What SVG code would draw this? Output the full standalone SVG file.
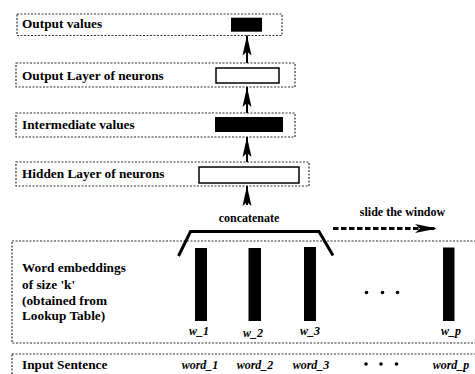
<svg xmlns="http://www.w3.org/2000/svg" width="475" height="374" viewBox="0 0 475 374">
<defs>
<style>
.box{fill:none;stroke:#333;stroke-width:1.2;stroke-dasharray:2 1.5}
.lbl{font-family:"Liberation Serif","Times New Roman",serif;font-weight:bold;font-size:13.3px;fill:#000}
.sm{font-family:"Liberation Serif","Times New Roman",serif;font-weight:bold;font-size:12px;fill:#000}
.it{font-family:"Liberation Serif","Times New Roman",serif;font-weight:bold;font-style:italic;font-size:12px;fill:#000}
.blk{fill:#000}
.wht{fill:#fff;stroke:#000;stroke-width:1.5}
.arr{fill:none;stroke:#000;stroke-width:2}
</style>
<marker id="ah" viewBox="0 0 20 10" refX="20" refY="5" markerWidth="20" markerHeight="10" markerUnits="userSpaceOnUse" orient="auto">
<path d="M20,5 L0,0.5 L4,5 L0,9.5 Z" fill="#000"/>
</marker>
<marker id="ah2" viewBox="0 0 22 9" refX="22" refY="4.5" markerWidth="22" markerHeight="9" markerUnits="userSpaceOnUse" orient="auto">
<path d="M22,4.5 L0,0 L5,4.5 L0,9 Z" fill="#000"/>
</marker>
</defs>
<rect width="475" height="374" fill="#fff"/>

<g id="output-values">
<rect class="box" x="17" y="14" width="265" height="21.5"/>
<text class="lbl" x="22" y="28">Output values</text>
<rect class="blk" x="231" y="17.7" width="31" height="14"/>
</g>

<g id="output-layer">
<rect class="box" x="16" y="63" width="279" height="24"/>
<text class="lbl" x="22" y="80">Output Layer of neurons</text>
<rect class="wht" x="216" y="68" width="63" height="15"/>
</g>

<g id="intermediate">
<rect class="box" x="16" y="113" width="279" height="24"/>
<text class="lbl" x="22" y="129">Intermediate values</text>
<rect class="blk" x="215" y="117" width="68" height="15"/>
</g>

<g id="hidden-layer">
<rect class="box" x="16" y="162" width="293" height="24"/>
<text class="lbl" x="22" y="178">Hidden Layer of neurons</text>
<rect class="wht" x="199" y="167" width="100" height="16"/>
</g>

<g id="embeddings">
<rect class="box" x="12" y="241" width="470" height="102"/>
<text class="lbl" x="22" y="272">Word embeddings</text>
<text class="lbl" x="22" y="289">of size 'k'</text>
<text class="lbl" x="22" y="305">(obtained from</text>
<text class="lbl" x="22" y="320">Lookup Table)</text>
<rect class="blk" x="195" y="248" width="12" height="73"/>
<rect class="blk" x="248.5" y="248" width="12.5" height="73"/>
<rect class="blk" x="304" y="247" width="12" height="74"/>
<rect class="blk" x="443" y="247.5" width="11.5" height="73.5"/>
<text class="it" x="199" y="335" text-anchor="middle">w_1</text>
<text class="it" x="253" y="337" text-anchor="middle">w_2</text>
<text class="it" x="310" y="335" text-anchor="middle">w_3</text>
<text class="it" x="451" y="335" text-anchor="middle">w_p</text>
<circle cx="366.5" cy="292.5" r="1.8"/>
<circle cx="382.5" cy="292.5" r="1.8"/>
<circle cx="397.5" cy="292.5" r="1.8"/>
</g>

<g id="input-sentence">
<rect class="box" x="12" y="354" width="470" height="30"/>
<text class="lbl" x="22" y="369">Input Sentence</text>
<text class="it" x="200" y="369" text-anchor="middle">word_1</text>
<text class="it" x="255" y="369" text-anchor="middle">word_2</text>
<text class="it" x="311" y="369" text-anchor="middle">word_3</text>
<text class="it" x="451" y="369" text-anchor="middle">word_p</text>
<circle cx="366" cy="364" r="1.8"/>
<circle cx="381" cy="364" r="1.8"/>
<circle cx="396.5" cy="364" r="1.8"/>
</g>

<g id="concatenate">
<polyline points="178.5,256 190.5,231.5 319,231.5 333,255.5" fill="none" stroke="#000" stroke-width="3"/>
<text class="sm" x="249" y="222" text-anchor="middle">concatenate</text>
</g>

<g id="slide-window">
<text class="sm" x="402.5" y="216" text-anchor="middle">slide the window</text>
</g>

<g id="connectors">
<line class="arr" x1="247" y1="63" x2="247" y2="35.5" marker-end="url(#ah)"/>
<line class="arr" x1="247" y1="113" x2="247" y2="87" marker-end="url(#ah)"/>
<line class="arr" x1="247" y1="162" x2="247" y2="137" marker-end="url(#ah)"/>
<line class="arr" x1="247" y1="205" x2="247" y2="186" marker-end="url(#ah)"/>
<line x1="333" y1="228.5" x2="437" y2="228.5" stroke="#000" stroke-width="3" stroke-dasharray="5.5 2.5" marker-end="url(#ah2)"/>
</g>
</svg>
